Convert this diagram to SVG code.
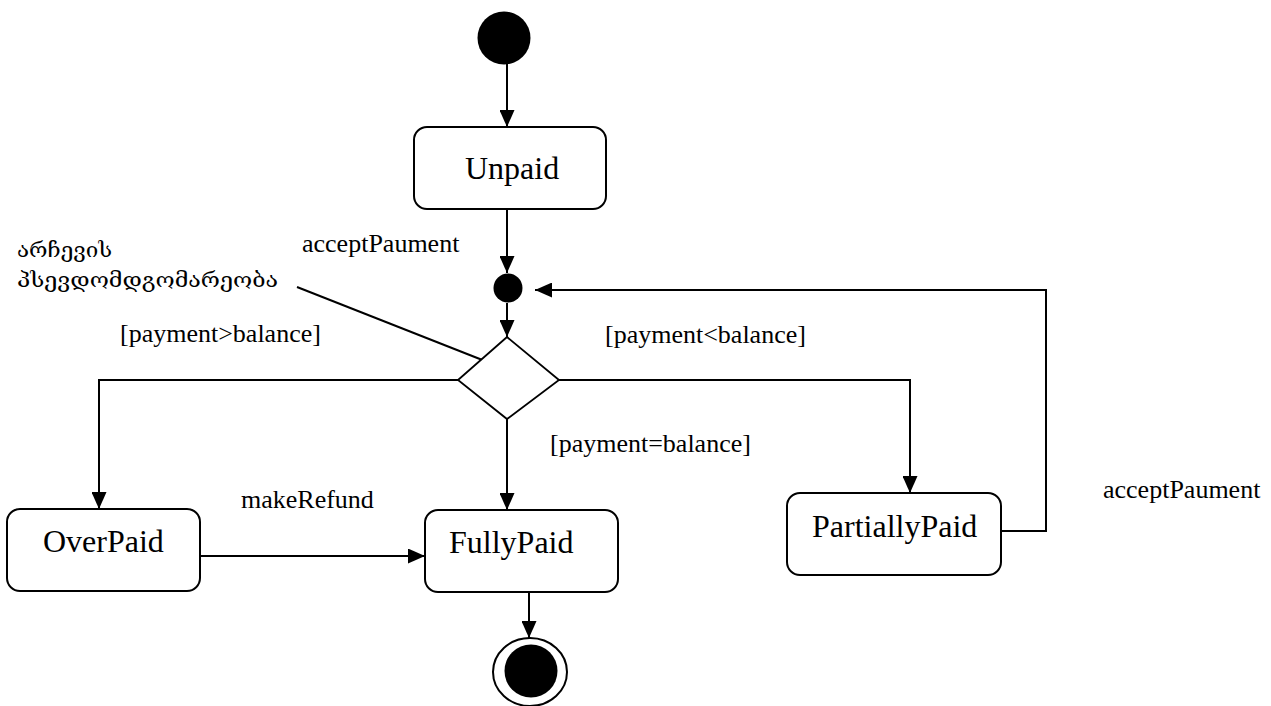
<svg xmlns="http://www.w3.org/2000/svg" width="1271" height="706" viewBox="0 0 1271 706">
  <style>
    .state { fill: #fff; stroke: #000; stroke-width: 2; }
    .name { font-family: "Liberation Serif", "Times New Roman", serif; font-size: 32px; fill: #000; }
    .label { font-family: "Liberation Serif", "Times New Roman", serif; font-size: 26px; fill: #000; }
    .geo { font-family: "DejaVu Serif", "DejaVu Sans", serif; font-size: 21px; fill: #000; }
    .edge { fill: none; stroke: #000; stroke-width: 2; }
  </style>
  <defs>
    <marker id="arrow" markerUnits="userSpaceOnUse" markerWidth="17" markerHeight="15" refX="17" refY="7.5" orient="auto">
      <path d="M0,0 L17,7.5 L0,15 z" fill="#000"/>
    </marker>
  </defs>
  <rect width="1271" height="706" fill="#fff"/>

  <!-- connectors -->
  <g id="connectors">
    <line class="edge" x1="507" y1="64" x2="507" y2="127" marker-end="url(#arrow)"/>
    <line class="edge" x1="507" y1="209" x2="507" y2="273" marker-end="url(#arrow)"/>
    <line class="edge" x1="507" y1="303" x2="507" y2="337" marker-end="url(#arrow)"/>
    <polyline class="edge" points="458,380 99,380 99,509" marker-end="url(#arrow)"/>
    <line class="edge" x1="507" y1="419" x2="507" y2="510" marker-end="url(#arrow)"/>
    <polyline class="edge" points="559,380 910,380 910,493" marker-end="url(#arrow)"/>
    <line class="edge" x1="200" y1="556" x2="425" y2="556" marker-end="url(#arrow)"/>
    <polyline class="edge" points="1001,531 1046,531 1046,290 535,290" marker-end="url(#arrow)"/>
    <line class="edge" x1="529" y1="592" x2="529" y2="638" marker-end="url(#arrow)"/>
    <!-- note pointer to the choice pseudostate -->
    <line class="edge" x1="297" y1="287" x2="490" y2="363"/>
  </g>

  <!-- initial state -->
  <g id="initial">
    <circle cx="504" cy="38" r="26.5" fill="#000"/>
  </g>

  <g id="unpaid">
    <rect class="state" x="414" y="127" width="192" height="82" rx="13"/>
    <text class="name" x="465" y="179">Unpaid</text>
  </g>

  <!-- junction -->
  <g id="junction">
    <circle cx="508" cy="288" r="14.5" fill="#000"/>
  </g>

  <!-- choice pseudostate -->
  <g id="choice">
    <polygon points="507,337 559,380 507,419 458,380" fill="#fff" stroke="#000" stroke-width="1.8"/>
  </g>

  <g id="overpaid">
    <rect class="state" x="7" y="509" width="193" height="82" rx="13"/>
    <text class="name" x="43" y="552">OverPaid</text>
  </g>

  <g id="fullypaid">
    <rect class="state" x="425" y="510" width="193" height="82" rx="13"/>
    <text class="name" x="449" y="553">FullyPaid</text>
  </g>

  <g id="partiallypaid">
    <rect class="state" x="787" y="493" width="214" height="82" rx="13"/>
    <text class="name" x="812" y="537">PartiallyPaid</text>
  </g>

  <!-- final state -->
  <g id="final">
    <ellipse cx="530" cy="672" rx="37" ry="34" fill="#fff" stroke="#000" stroke-width="2"/>
    <circle cx="531" cy="671" r="26.5" fill="#000"/>
  </g>

  <!-- transition labels -->
  <g id="labels">
    <text class="label" x="302" y="252">acceptPaument</text>
    <text class="label" x="1103" y="498">acceptPaument</text>
    <text class="label" x="120" y="342">[payment&gt;balance]</text>
    <text class="label" x="605" y="343">[payment&lt;balance]</text>
    <text class="label" x="550" y="452">[payment=balance]</text>
    <text class="label" x="241" y="508">makeRefund</text>
  </g>

  <!-- note -->
  <g id="note">
    <text class="geo" x="17" y="257" textLength="95" lengthAdjust="spacingAndGlyphs">არჩევის</text>
    <text class="geo" x="17" y="287" textLength="261" lengthAdjust="spacingAndGlyphs">პსევდომდგომარეობა</text>
  </g>
</svg>
